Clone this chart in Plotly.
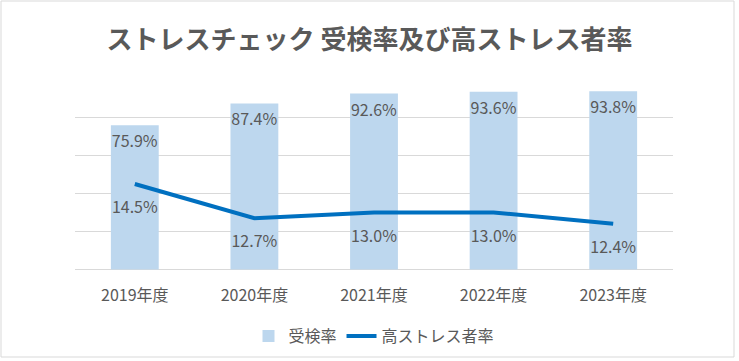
import plotly.graph_objects as go

years = ["2019年度", "2020年度", "2021年度", "2022年度", "2023年度"]
jukenritsu = [75.9, 87.4, 92.6, 93.6, 93.8]
high_stress = [14.5, 12.7, 13.0, 13.0, 12.4]

FONT = "Noto Sans CJK JP"
TXT = "#595959"

fig = go.Figure()
fig.add_trace(go.Bar(
    x=years, y=jukenritsu, name="受検率",
    marker=dict(color="#BDD7EE", line=dict(width=0)),
    texttemplate="%{y:.1f}%", textposition="inside", insidetextanchor="end",
    textangle=0, constraintext="none",
    textfont=dict(family=FONT, size=16, color=TXT),
))
fig.add_trace(go.Scatter(
    x=years, y=high_stress, name="高ストレス者率", yaxis="y2",
    mode="lines+markers+text",
    line=dict(color="#0070C0", width=4),
    marker=dict(size=26, color="rgba(0,0,0,0)"),
    texttemplate="%{y:.1f}%", textposition="bottom center",
    textfont=dict(family=FONT, size=16, color=TXT),
))

W, H = 739, 361
L, R, T, B = 75, 66, 79, 91
pw, ph = W - L - R, H - T - B

def px(x):
    return (x - L) / pw

def py(y):
    return (H - B - y) / ph

fig.add_shape(type="rect", xref="paper", yref="paper",
              x0=px(1), x1=px(734), y0=py(357), y1=py(1),
              line=dict(color="#D9D9D9", width=1), fillcolor="rgba(0,0,0,0)", layer="below")

fig.update_layout(
    width=W, height=H,
    margin=dict(l=L, r=R, t=T, b=B, autoexpand=False),
    paper_bgcolor="white", plot_bgcolor="white",
    font=dict(family=FONT, color=TXT),
    title=dict(text="<b>ストレスチェック 受検率及び高ストレス者率</b>",
               x=0.5, xref="container", xanchor="center",
               y=1 - 40 / H, yref="container", yanchor="middle",
               font=dict(family=FONT, size=26, color=TXT)),
    bargap=0.6,
    showlegend=True,
    legend=dict(orientation="h", x=0.5, xanchor="center", y=-(336 - (H - B)) / ph,
                yanchor="middle", font=dict(family=FONT, size=16, color=TXT),
                traceorder="normal"),
    xaxis=dict(showgrid=False, showline=False, ticks="", ticklabelstandoff=14,
               tickfont=dict(family=FONT, size=16, color=TXT)),
    yaxis=dict(range=[-0.3, 100.3], tick0=0, dtick=20, showgrid=True,
               gridcolor="#D9D9D9", gridwidth=1,
               showticklabels=False, zeroline=True, zerolinecolor="#D9D9D9",
               zerolinewidth=1, showline=False, ticks=""),
    yaxis2=dict(range=[10 - 0.03, 20 + 0.03], overlaying="y", side="right", showgrid=False,
                showticklabels=False, zeroline=False, showline=False, ticks=""),
)

fig.write_html("out.html", config={"displayModeBar": False},
               post_script="document.body.style.margin='0';")
